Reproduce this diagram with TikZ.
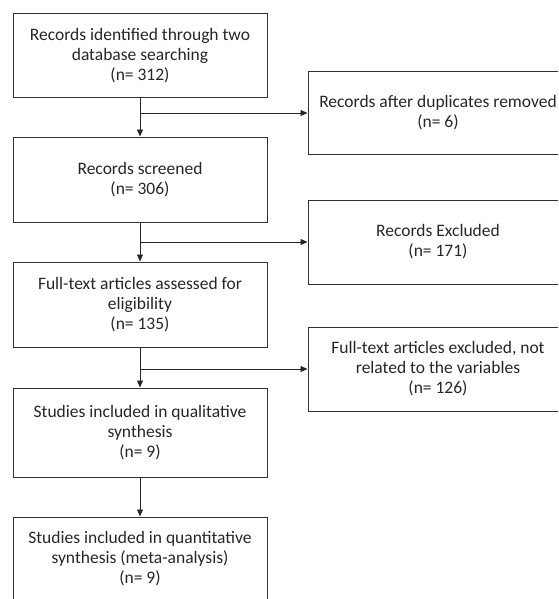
\documentclass[tikz,border=0pt]{standalone}
\usepackage{fontspec}
\setmainfont{Carlito}
\usetikzlibrary{arrows.meta}

\begin{document}
\begin{tikzpicture}[x=1pt, y=1pt, yscale=-1, xscale=1,
  box/.style={draw=black!80, line width=1pt, minimum width=254pt, align=center, inner sep=0pt, text=black!85, font=\fontsize{17.5}{20}\selectfont},
  sidebox/.style={box, minimum width=260pt},
  arr/.style={draw=black!85, line width=0.9pt, -{Triangle[length=7pt, width=6pt]}}]
\useasboundingbox (0,0) rectangle (558,599);
\clip (0,0) rectangle (558,599);
\node[box, minimum height=84pt] (ident) at (140,56) {Records identified through two\\database searching\\(n= 312)};
\node[box, minimum height=85pt] (screen) at (140,179.5) {Records screened\\(n= 306)};
\node[box, minimum height=85pt] (full) at (140,304.5) {Full-text articles assessed for\\eligibility\\(n= 135)};
\node[box, minimum height=89pt] (qual) at (140,432.5) {Studies included in qualitative\\synthesis\\(n= 9)};
\node[box, minimum height=83pt] (quant) at (140,558.5) {Studies included in quantitative\\synthesis (meta-analysis)\\(n= 9)};
\node[sidebox, minimum height=82pt] (dup) at (438,113) {Records after duplicates removed\\(n= 6)};
\node[sidebox, minimum height=84pt] (excl) at (438,242) {Records Excluded\\(n= 171)};
\node[sidebox, minimum height=84pt] (notrel) at (438,369) {Full-text articles excluded, not\\related to the variables\\(n= 126)};
\draw[arr] (ident) -- (screen);
\draw[arr] (screen) -- (full);
\draw[arr] (full) -- (qual);
\draw[arr] (qual) -- (quant);
\draw[arr] (ident.south |- dup.west) -- (dup.west);
\draw[arr] (screen.south |- excl.west) -- (excl.west);
\draw[arr] (full.south |- notrel.west) -- (notrel.west);
\end{tikzpicture}
\end{document}
